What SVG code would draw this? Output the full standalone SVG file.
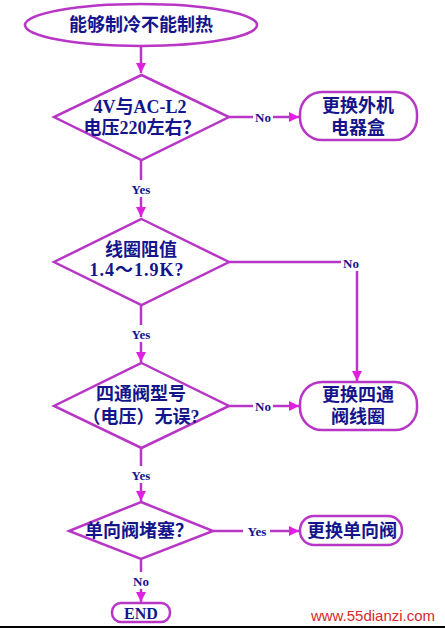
<svg xmlns="http://www.w3.org/2000/svg" width="445" height="628" viewBox="0 0 445 628">
<defs>
<marker id="arr" markerUnits="userSpaceOnUse" markerWidth="12" markerHeight="12" refX="10" refY="5" orient="auto">
<path d="M0,0 L10,5 L0,10 Z" fill="#e020e0"/>
</marker>
<style>
.shape{fill:#fff;stroke:#b836c6;stroke-width:2.5}
.conn{fill:none;stroke:#b836c6;stroke-width:2.5}
.t{font-family:"Liberation Serif","Noto Sans CJK SC",serif;font-size:18px;font-weight:bold;fill:#14148c;text-anchor:middle;dominant-baseline:central}
.lab{font-family:"Liberation Serif",serif;font-size:13px;font-weight:bold;fill:#14148c;text-anchor:middle;dominant-baseline:central}
</style>
</defs>
<rect width="445" height="628" fill="#fff"/>
<g id="connectors">
<path class="conn" d="M141,46 V73" marker-end="url(#arr)"/>
<path class="conn" d="M229,117 H253"/>
<path class="conn" d="M273,117 H299" marker-end="url(#arr)"/>
<path class="conn" d="M141,160 V180"/>
<path class="conn" d="M141,197 V217" marker-end="url(#arr)"/>
<path class="conn" d="M229,262 H341"/>
<path class="conn" d="M357,271 V381" marker-end="url(#arr)"/>
<path class="conn" d="M141,305 V325"/>
<path class="conn" d="M141,342 V362" marker-end="url(#arr)"/>
<path class="conn" d="M229,406 H253"/>
<path class="conn" d="M273,406 H299" marker-end="url(#arr)"/>
<path class="conn" d="M141,448 V466"/>
<path class="conn" d="M141,483 V501" marker-end="url(#arr)"/>
<path class="conn" d="M213,531 H243"/>
<path class="conn" d="M270,531 H299" marker-end="url(#arr)"/>
<path class="conn" d="M141,559 V572"/>
<path class="conn" d="M141,589 V602" marker-end="url(#arr)"/>
<text class="lab" x="263" y="117">No</text>
<text class="lab" x="141" y="189">Yes</text>
<text class="lab" x="351" y="263">No</text>
<text class="lab" x="141" y="334">Yes</text>
<text class="lab" x="263" y="406">No</text>
<text class="lab" x="141" y="475">Yes</text>
<text class="lab" x="257" y="531">Yes</text>
<text class="lab" x="141" y="581">No</text>
</g>
<g id="start">
<ellipse class="shape" cx="141" cy="25" rx="116" ry="21"/>
<text class="t" x="141" y="25">能够制冷不能制热</text>
</g>
<g id="d1">
<polygon class="shape" points="141.5,75 229,117 141.5,160 54,117"/>
<text class="t" x="140" y="107">4V与AC-L2</text>
<text class="t" x="142" y="128">电压220左右？</text>
</g>
<g id="box1">
<rect class="shape" x="300" y="92" width="117" height="48" rx="22"/>
<text class="t" x="358" y="106">更换外机</text>
<text class="t" x="358" y="128">电器盒</text>
</g>
<g id="d2">
<polygon class="shape" points="141.5,219 229,262 141.5,305 54,262"/>
<text class="t" x="141" y="250">线圈阻值</text>
<text class="t" x="137" y="270" letter-spacing="1">1.4～1.9K?</text>
</g>
<g id="d3">
<polygon class="shape" points="141.5,363 229,406 141.5,448 54,406"/>
<text class="t" x="141" y="394">四通阀型号</text>
<text class="t" x="141" y="417">（电压）无误?</text>
</g>
<g id="box2">
<rect class="shape" x="300" y="382" width="117" height="48" rx="22"/>
<text class="t" x="358" y="395">更换四通</text>
<text class="t" x="358" y="417">阀线圈</text>
</g>
<g id="d4">
<polygon class="shape" points="141,502 213,531 141,559 69,531"/>
<text class="t" x="139" y="531">单向阀堵塞？</text>
</g>
<g id="box3">
<rect class="shape" x="300" y="516" width="102" height="29" rx="14"/>
<text class="t" x="352" y="531">更换单向阀</text>
</g>
<g id="end">
<rect class="shape" x="112" y="603" width="58" height="19" rx="9"/>
<text class="t" x="141" y="613" style="font-size:16px">END</text>
</g>
<text x="373" y="621" font-family="Liberation Sans, Arial, sans-serif" font-size="15" fill="#d42a2a" text-anchor="middle">www.55dianzi.com</text>
<line x1="0" y1="627" x2="445" y2="627" stroke="#000" stroke-width="2"/>
</svg>
